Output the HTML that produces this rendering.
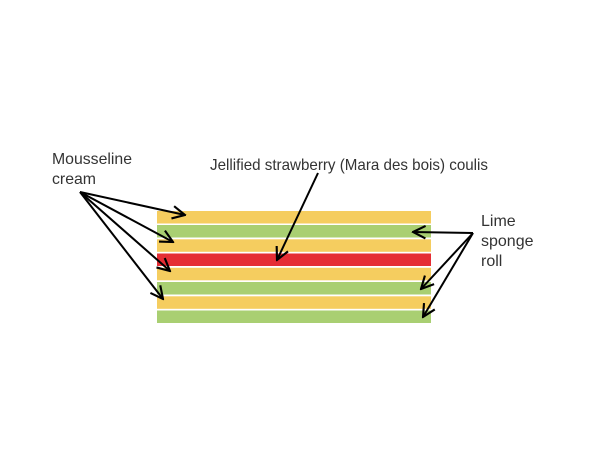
<!DOCTYPE html>
<html><head><meta charset="utf-8"><style>
html,body{margin:0;padding:0;background:#fff;}
svg{display:block;}
text{font-family:"Liberation Sans",sans-serif;font-size:16px;fill:#333;}
</style></head><body>
<svg width="600" height="452" viewBox="0 0 600 452" xmlns="http://www.w3.org/2000/svg">
<defs>
<marker id="a" viewBox="0 0 12 12" refX="11" refY="6" markerWidth="15" markerHeight="15" markerUnits="userSpaceOnUse" orient="auto">
<path d="M1,1 L11,6 L1,11" fill="none" stroke="#000" stroke-width="1.7"/>
</marker>
</defs>
<rect x="157" y="211" width="274" height="12.5" fill="#f5cd5f"/>
<rect x="157" y="225" width="274" height="12.5" fill="#a9cf72"/>
<rect x="157" y="239.3" width="274" height="12.5" fill="#f5cd5f"/>
<rect x="157" y="253.5" width="274" height="12.5" fill="#e52d34"/>
<rect x="157" y="267.8" width="274" height="12.5" fill="#f5cd5f"/>
<rect x="157" y="282" width="274" height="12.5" fill="#a9cf72"/>
<rect x="157" y="296.3" width="274" height="12.5" fill="#f5cd5f"/>
<rect x="157" y="310.5" width="274" height="12.5" fill="#a9cf72"/>
<g stroke="#000" stroke-width="2" fill="none" marker-end="url(#a)">
<line x1="80" y1="192" x2="185" y2="215"/>
<line x1="80" y1="192" x2="173" y2="242"/>
<line x1="80" y1="192" x2="170" y2="271"/>
<line x1="80" y1="192" x2="163" y2="299"/>
<line x1="318" y1="173" x2="277" y2="260"/>
<line x1="473" y1="233" x2="413" y2="232"/>
<line x1="473" y1="233" x2="421" y2="289"/>
<line x1="473" y1="233" x2="423" y2="317"/>
</g>
<text x="52" y="164" textLength="80" lengthAdjust="spacingAndGlyphs">Mousseline</text>
<text x="52" y="184" textLength="44" lengthAdjust="spacingAndGlyphs">cream</text>
<text x="210" y="170" textLength="278" lengthAdjust="spacingAndGlyphs">Jellified strawberry (Mara des bois) coulis</text>
<text x="481" y="226">Lime</text>
<text x="481" y="246">sponge</text>
<text x="481" y="266">roll</text>
</svg>
</body></html>
